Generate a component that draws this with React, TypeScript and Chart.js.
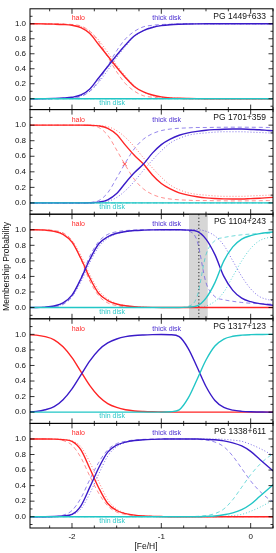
import { useEffect, useRef } from "react";
import { Chart, registerables } from "chart.js";
Chart.register(...registerables);

// ---------------- data ----------------
const feh = [-2.5, -2.4, -2.3, -2.2, -2.1, -2.0, -1.9, -1.8, -1.7, -1.6, -1.5, -1.4, -1.3, -1.2, -1.1, -1.0, -0.9, -0.8, -0.7, -0.6, -0.5, -0.4, -0.3, -0.2, -0.1, 0.0, 0.1, 0.2, 0.3];

const starNames = ["PG 1449+633", "PG 1701+359", "PG 1104+243", "PG 1317+123", "PG 1338+611"];
const yTickValues = [0, 0.2, 0.4, 0.6, 0.8, 1.0];
const yMinorTicks = [-0.1, 0.1, 0.3, 0.5, 0.7, 0.9, 1.1];
const xTickValues = [-2, -1, 0];
const xMinorTicks = [-2.25, -1.75, -1.5, -1.25, -0.75, -0.5, -0.25, 0.25];

const zeros = [0, 0, 0, 0, 0, 0, 0, 0, 0, 0, 0, 0, 0, 0, 0, 0, 0, 0, 0, 0, 0, 0, 0, 0, 0, 0, 0, 0, 0];

// panel 1
const halo1 = [1, 1, 0.998, 0.995, 0.99, 0.98, 0.95, 0.87, 0.72, 0.57, 0.42, 0.28, 0.16, 0.09, 0.05, 0.025, 0.012, 0.006, 0.003, 0.001, 0, 0, 0, 0, 0, 0, 0, 0, 0];
const thick1 = [0, 0, 0.002, 0.005, 0.01, 0.02, 0.05, 0.13, 0.28, 0.43, 0.58, 0.72, 0.84, 0.91, 0.95, 0.975, 0.988, 0.994, 0.997, 0.999, 1, 1, 1, 1, 1, 1, 1, 1, 1];
const halo1Dash = [1, 1, 1, 1, 0.998, 0.99, 0.97, 0.9, 0.76, 0.56, 0.36, 0.2, 0.1, 0.04, 0.02, 0.01, 0.005, 0.002, 0, 0, 0, 0, 0, 0, 0, 0, 0, 0, 0];
const thick1Dash = [0, 0, 0, 0, 0.002, 0.01, 0.03, 0.1, 0.24, 0.44, 0.64, 0.8, 0.9, 0.96, 0.98, 0.99, 0.995, 0.998, 1, 1, 1, 1, 1, 1, 1, 1, 1, 1, 1];
const halo1Dot = [1, 1, 1, 0.998, 0.995, 0.985, 0.96, 0.9, 0.78, 0.62, 0.45, 0.3, 0.17, 0.09, 0.04, 0.02, 0.01, 0.005, 0.002, 0, 0, 0, 0, 0, 0, 0, 0, 0, 0];
const thick1Dot = [0, 0, 0, 0.002, 0.005, 0.015, 0.04, 0.1, 0.22, 0.38, 0.55, 0.7, 0.83, 0.91, 0.96, 0.98, 0.99, 0.995, 0.998, 1, 1, 1, 1, 1, 1, 1, 1, 1, 1];

// panel 2
const halo2 = [1, 1, 1, 1, 1, 1, 1, 0.998, 0.99, 0.96, 0.88, 0.74, 0.61, 0.5, 0.36, 0.25, 0.18, 0.13, 0.1, 0.08, 0.065, 0.057, 0.052, 0.05, 0.05, 0.055, 0.06, 0.068, 0.075];
const thick2 = [0, 0, 0, 0, 0, 0, 0, 0.002, 0.01, 0.04, 0.12, 0.26, 0.39, 0.5, 0.64, 0.75, 0.82, 0.87, 0.9, 0.92, 0.935, 0.943, 0.948, 0.95, 0.95, 0.945, 0.94, 0.932, 0.925];
const halo2Dash = [1, 1, 1, 1, 1, 1, 1, 0.995, 0.97, 0.87, 0.68, 0.48, 0.3, 0.18, 0.11, 0.07, 0.05, 0.04, 0.035, 0.03, 0.03, 0.028, 0.027, 0.026, 0.026, 0.027, 0.028, 0.03, 0.032];
const thick2Dash = [0, 0, 0, 0, 0, 0, 0, 0.005, 0.03, 0.13, 0.32, 0.52, 0.7, 0.82, 0.89, 0.93, 0.95, 0.96, 0.965, 0.97, 0.97, 0.972, 0.973, 0.974, 0.974, 0.973, 0.972, 0.97, 0.968];
const halo2Dot = [1, 1, 1, 1, 1, 1, 1, 1, 0.995, 0.98, 0.93, 0.84, 0.72, 0.58, 0.45, 0.33, 0.23, 0.17, 0.13, 0.11, 0.1, 0.09, 0.085, 0.085, 0.085, 0.09, 0.095, 0.1, 0.105];
const thick2Dot = [0, 0, 0, 0, 0, 0, 0, 0, 0.005, 0.02, 0.07, 0.16, 0.28, 0.42, 0.55, 0.67, 0.77, 0.83, 0.87, 0.89, 0.9, 0.91, 0.915, 0.915, 0.915, 0.91, 0.905, 0.9, 0.895];
const markX = [-1.41];
const markY = [0.5];

// panel 3
const halo3 = [1, 1, 0.995, 0.98, 0.94, 0.84, 0.63, 0.38, 0.18, 0.09, 0.045, 0.022, 0.01, 0.005, 0.002, 0, 0, 0, 0, 0, 0, 0, 0, 0, 0, 0, 0, 0, 0];
const thick3 = [0, 0, 0.005, 0.02, 0.06, 0.16, 0.37, 0.62, 0.82, 0.91, 0.955, 0.978, 0.99, 0.995, 0.998, 1, 1, 1, 0.995, 0.98, 0.88, 0.68, 0.4, 0.22, 0.12, 0.075, 0.05, 0.035, 0.025];
const thin3 = [0, 0, 0, 0, 0, 0, 0, 0, 0, 0, 0, 0, 0, 0, 0, 0, 0, 0, 0.005, 0.02, 0.12, 0.32, 0.6, 0.78, 0.88, 0.925, 0.95, 0.965, 0.975];
const halo3Dash = [1, 1, 1, 0.99, 0.96, 0.86, 0.62, 0.34, 0.15, 0.06, 0.025, 0.01, 0.004, 0, 0, 0, 0, 0, 0, 0, 0, 0, 0, 0, 0, 0, 0, 0, 0];
const thick3Dash = [0, 0, 0, 0.01, 0.04, 0.14, 0.38, 0.66, 0.85, 0.94, 0.975, 0.99, 0.996, 1, 1, 1, 1, 1, 0.985, 0.86, 0.32, 0.14, 0.1, 0.08, 0.065, 0.055, 0.05, 0.045, 0.04];
const thin3Dash = [0, 0, 0, 0, 0, 0, 0, 0, 0, 0, 0, 0, 0, 0, 0, 0, 0, 0, 0.015, 0.14, 0.68, 0.86, 0.9, 0.92, 0.935, 0.945, 0.95, 0.955, 0.96];
const halo3Dot = [1, 1, 0.995, 0.985, 0.95, 0.86, 0.67, 0.42, 0.22, 0.11, 0.05, 0.025, 0.01, 0.005, 0, 0, 0, 0, 0, 0, 0, 0, 0, 0, 0, 0, 0, 0, 0];
const thick3Dot = [0, 0, 0.005, 0.015, 0.05, 0.14, 0.33, 0.58, 0.78, 0.89, 0.95, 0.975, 0.99, 0.995, 1, 1, 1, 1, 1, 1, 0.98, 0.92, 0.8, 0.6, 0.4, 0.24, 0.14, 0.1, 0.08];
const thin3Dot = [0, 0, 0, 0, 0, 0, 0, 0, 0, 0, 0, 0, 0, 0, 0, 0, 0, 0, 0, 0, 0.02, 0.08, 0.2, 0.4, 0.6, 0.76, 0.86, 0.9, 0.92];
const bandRange = [-0.69, -0.48];
const bandMark = [-0.58];

// panel 4
const halo4 = [0.995, 0.99, 0.97, 0.93, 0.84, 0.7, 0.52, 0.34, 0.2, 0.11, 0.06, 0.03, 0.015, 0.008, 0.004, 0.002, 0, 0, 0, 0, 0, 0, 0, 0, 0, 0, 0, 0, 0];
const thick4 = [0.005, 0.01, 0.03, 0.07, 0.16, 0.3, 0.48, 0.66, 0.8, 0.89, 0.94, 0.97, 0.985, 0.992, 0.996, 0.998, 0.995, 0.97, 0.82, 0.58, 0.33, 0.15, 0.06, 0.025, 0.01, 0.004, 0.002, 0, 0];
const thin4 = [0, 0, 0, 0, 0, 0, 0, 0, 0, 0, 0, 0, 0, 0, 0, 0, 0.005, 0.03, 0.18, 0.42, 0.67, 0.85, 0.94, 0.975, 0.99, 0.996, 0.998, 1, 1];

// panel 5
const halo5 = [1, 1, 1, 0.998, 0.99, 0.97, 0.86, 0.62, 0.37, 0.17, 0.08, 0.04, 0.02, 0.01, 0.005, 0.002, 0, 0, 0, 0, 0, 0, 0, 0, 0, 0, 0, 0, 0];
const thick5 = [0, 0, 0, 0.002, 0.01, 0.03, 0.14, 0.38, 0.63, 0.83, 0.92, 0.96, 0.98, 0.99, 0.995, 0.998, 1, 1, 1, 1, 0.995, 0.99, 0.975, 0.95, 0.91, 0.84, 0.74, 0.64, 0.54];
const thin5 = [0, 0, 0, 0, 0, 0, 0, 0, 0, 0, 0, 0, 0, 0, 0, 0, 0, 0, 0, 0, 0.005, 0.01, 0.025, 0.05, 0.09, 0.16, 0.26, 0.36, 0.46];
const halo5Dash = [1, 1, 1, 1, 0.98, 0.92, 0.76, 0.52, 0.3, 0.14, 0.06, 0.03, 0.012, 0.005, 0.002, 0, 0, 0, 0, 0, 0, 0, 0, 0, 0, 0, 0, 0, 0];
const thick5Dash = [0, 0, 0, 0, 0.02, 0.08, 0.24, 0.48, 0.7, 0.86, 0.94, 0.97, 0.988, 0.995, 0.998, 1, 1, 1, 0.998, 0.995, 0.985, 0.96, 0.9, 0.78, 0.62, 0.46, 0.33, 0.23, 0.16];
const thin5Dash = [0, 0, 0, 0, 0, 0, 0, 0, 0, 0, 0, 0, 0, 0, 0, 0, 0, 0, 0.002, 0.005, 0.015, 0.04, 0.1, 0.22, 0.38, 0.54, 0.67, 0.77, 0.84];
const halo5Dot = [1, 1, 1, 0.999, 0.995, 0.975, 0.9, 0.7, 0.45, 0.22, 0.1, 0.045, 0.02, 0.01, 0.005, 0.002, 0, 0, 0, 0, 0, 0, 0, 0, 0, 0, 0, 0, 0];
const thick5Dot = [0, 0, 0, 0.001, 0.005, 0.025, 0.1, 0.3, 0.55, 0.78, 0.9, 0.955, 0.98, 0.99, 0.995, 0.998, 1, 1, 1, 1, 1, 1, 0.995, 0.985, 0.97, 0.93, 0.88, 0.82, 0.76];
const thin5Dot = [0, 0, 0, 0, 0, 0, 0, 0, 0, 0, 0, 0, 0, 0, 0, 0, 0, 0, 0, 0, 0, 0, 0.005, 0.015, 0.03, 0.07, 0.12, 0.18, 0.24];

type Panel = {
  name: string;
  solid: number[][]; // halo, thick, thin
  dash: number[][] | null;
  dot: number[][] | null;
};

const panels: Panel[] = [
  { name: starNames[0], solid: [halo1, thick1, zeros], dash: [halo1Dash, thick1Dash, zeros], dot: [halo1Dot, thick1Dot, zeros] },
  { name: starNames[1], solid: [halo2, thick2, zeros], dash: [halo2Dash, thick2Dash, zeros], dot: [halo2Dot, thick2Dot, zeros] },
  { name: starNames[2], solid: [halo3, thick3, thin3], dash: [halo3Dash, thick3Dash, thin3Dash], dot: [halo3Dot, thick3Dot, thin3Dot] },
  { name: starNames[3], solid: [halo4, thick4, thin4], dash: null, dot: null },
  { name: starNames[4], solid: [halo5, thick5, thin5], dash: [halo5Dash, thick5Dash, thin5Dash], dot: [halo5Dot, thick5Dot, thin5Dot] },
];

// ---------------- layout / style ----------------
const W = 276, H = 553;
const LEFT = 30, RIGHT = 273, TOP = 5, PANEL_H = 104.6;
const X_MIN = -2.47, X_MAX = 0.25, Y_MIN = -0.145, Y_MAX = 1.2;
const FONT = '"Liberation Sans", Arial, Helvetica, sans-serif';

const SOLID = ["#ff2424", "#3a1bc8", "#22c6c6"];
const DASHC = ["rgba(255,90,90,0.75)", "rgba(95,75,225,0.75)", "rgba(60,205,205,0.8)"];
const DOTC = ["rgba(255,90,90,0.8)", "rgba(95,75,225,0.8)", "rgba(60,205,205,0.85)"];
const LABELC = ["#ff2a2a", "#4a2ed0", "#2ec8c8"];

function lineDs(values: number[], color: string, width: number, dash: number[]) {
  return {
    data: feh.map((x, i) => ({ x, y: values[i] })),
    borderColor: color,
    backgroundColor: color,
    borderWidth: width,
    borderDash: dash,
    pointRadius: 0,
    fill: false,
    cubicInterpolationMode: "monotone" as const,
  };
}

function makeChart(canvas: HTMLCanvasElement, p: Panel, idx: number) {
  const top = TOP + idx * PANEL_H;
  const bottom = top + PANEL_H;
  const isLast = idx === panels.length - 1;

  const layers: any[] = [];
  if (p.dash) p.dash.forEach((v, k) => layers.push(lineDs(v, DASHC[k], 0.9, [4, 3])));
  if (p.dot) p.dot.forEach((v, k) => layers.push(lineDs(v, DOTC[k], 1, [1, 2])));
  p.solid.forEach((v, k) => layers.push(lineDs(v, SOLID[k], 1.4, [])));
  if (idx === 1) {
    layers.push({
      data: markX.map((x, i) => ({ x, y: markY[i] })),
      showLine: false,
      pointStyle: "crossRot",
      pointRadius: 2.5,
      borderColor: SOLID[0],
      borderWidth: 0.9,
    });
  }
  const datasets = layers.reverse();

  const decor = {
    id: "decor" + idx,
    beforeDatasetsDraw(chart: any) {
      if (idx !== 2) return;
      const { ctx, chartArea: a, scales } = chart;
      const x = scales.x;
      ctx.save();
      const x0 = x.getPixelForValue(bandRange[0]);
      const x1 = x.getPixelForValue(bandRange[1]);
      ctx.fillStyle = "#d6d6d6";
      ctx.fillRect(x0, a.top, x1 - x0, a.bottom - a.top);
      ctx.strokeStyle = "#222";
      ctx.lineWidth = 1;
      ctx.setLineDash([1.2, 2.2]);
      const xm = x.getPixelForValue(bandMark[0]);
      ctx.beginPath();
      ctx.moveTo(xm, a.top);
      ctx.lineTo(xm, a.bottom);
      ctx.stroke();
      ctx.restore();
    },
    afterDraw(chart: any) {
      const { ctx, chartArea: a, scales } = chart;
      const x = scales.x, y = scales.y;
      ctx.save();
      ctx.strokeStyle = "#000";
      ctx.lineWidth = 1;
      ctx.strokeRect(a.left, a.top, a.right - a.left, a.bottom - a.top);
      ctx.lineWidth = 0.8;
      ctx.beginPath();
      const xt = (v: number, len: number) => {
        const px = x.getPixelForValue(v);
        ctx.moveTo(px, a.bottom); ctx.lineTo(px, a.bottom - len);
        ctx.moveTo(px, a.top); ctx.lineTo(px, a.top + len);
      };
      const yt = (v: number, len: number) => {
        const py = y.getPixelForValue(v);
        ctx.moveTo(a.left, py); ctx.lineTo(a.left + len, py);
        ctx.moveTo(a.right, py); ctx.lineTo(a.right - len, py);
      };
      xTickValues.forEach((v) => xt(v, 5));
      xMinorTicks.forEach((v) => xt(v, 2.5));
      yTickValues.forEach((v) => yt(v, 4.5));
      yMinorTicks.forEach((v) => yt(v, 2.5));
      ctx.stroke();

      ctx.textBaseline = "middle";
      ctx.textAlign = "center";
      ctx.font = `7px ${FONT}`;
      ctx.fillStyle = LABELC[0];
      ctx.fillText("halo", x.getPixelForValue(-1.93), y.getPixelForValue(1.07));
      ctx.fillStyle = LABELC[1];
      ctx.fillText("thick disk", x.getPixelForValue(-0.94), y.getPixelForValue(1.07));
      ctx.fillStyle = LABELC[2];
      ctx.fillText("thin disk", x.getPixelForValue(-1.55), y.getPixelForValue(-0.055));

      ctx.font = `8.5px ${FONT}`;
      ctx.fillStyle = "#111";
      ctx.textAlign = "right";
      ctx.fillText(p.name, a.right - 7, y.getPixelForValue(1.1));

      if (isLast) {
        ctx.textAlign = "center";
        ctx.fillText("[Fe/H]", 146, 547);
        ctx.save();
        ctx.translate(7, TOP + (panels.length * PANEL_H) / 2);
        ctx.rotate(-Math.PI / 2);
        ctx.fillText("Membership Probability", 0, 0);
        ctx.restore();
      }
      ctx.restore();
    },
  };

  return new Chart(canvas, {
    type: "line",
    data: { datasets },
    plugins: [decor],
    options: {
      animation: false,
      responsive: false,
      maintainAspectRatio: false,
      events: [],
      layout: { autoPadding: false, padding: { top, right: W - RIGHT, bottom: 0, left: 0 } },
      plugins: { legend: { display: false }, tooltip: { enabled: false }, title: { display: false } },
      scales: {
        x: {
          type: "linear",
          min: X_MIN,
          max: X_MAX,
          bounds: "data",
          position: "bottom",
          grid: { display: false, drawTicks: false },
          border: { display: false },
          ticks: {
            display: isLast,
            color: "#111",
            font: { family: FONT, size: 8 },
            padding: 4,
            maxRotation: 0,
            autoSkip: false,
            callback: (v: any) => String(v),
          },
          afterBuildTicks: (s: any) => { s.ticks = xTickValues.map((v) => ({ value: v })); },
          afterFit: (s: any) => { s.height = H - bottom; },
        },
        y: {
          type: "linear",
          min: Y_MIN,
          max: Y_MAX,
          bounds: "data",
          position: "left",
          grid: { display: false, drawTicks: false },
          border: { display: false },
          ticks: {
            color: "#111",
            font: { family: FONT, size: 8 },
            padding: 4,
            autoSkip: false,
            callback: (v: any) => Number(v).toFixed(1),
          },
          afterBuildTicks: (s: any) => { s.ticks = yTickValues.map((v) => ({ value: v })); },
          afterFit: (s: any) => { s.width = LEFT; },
        },
      },
    } as any,
  });
}

export default function App() {
  const refs = useRef<(HTMLCanvasElement | null)[]>([]);
  useEffect(() => {
    const charts = panels.map((p, i) => makeChart(refs.current[i]!, p, i));
    return () => charts.forEach((c) => c.destroy());
  }, []);
  return (
    <div style={{ position: "absolute", left: 0, top: 0, width: W, height: H, background: "#fff" }}>
      {panels.map((_, i) => (
        <canvas
          key={i}
          ref={(el) => { refs.current[i] = el; }}
          width={W}
          height={H}
          style={{ position: "absolute", left: 0, top: 0, width: W, height: H }}
        />
      ))}
    </div>
  );
}
